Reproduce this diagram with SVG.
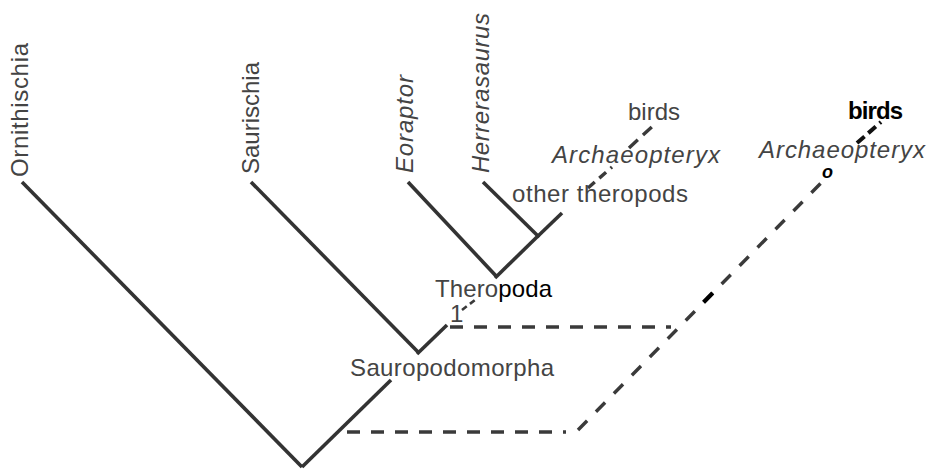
<svg xmlns="http://www.w3.org/2000/svg" width="930" height="471" viewBox="0 0 930 471">
<style>
.ln{stroke:#333;stroke-width:3.6;fill:none;stroke-linecap:butt}
.ds{stroke:#3a3a3a;stroke-width:3.4;fill:none;stroke-dasharray:13 11}
.tx{font-family:"Liberation Sans",Arial,sans-serif;font-size:24px;fill:#444}
.it{font-style:italic}
.bk{fill:#000;font-weight:bold}
</style>
<rect width="930" height="471" fill="#fff"/>
<g id="connectors">
<line class="ln" x1="22" y1="182" x2="302" y2="467"/>
<line class="ln" x1="302" y1="467" x2="391" y2="380"/>
<line class="ln" x1="417" y1="354" x2="447" y2="325"/>
<line class="ln" x1="251" y1="182" x2="419" y2="353"/>
<line class="ln" x1="408" y1="182" x2="497" y2="277"/>
<line class="ln" x1="483" y1="182" x2="539" y2="237"/>
<line class="ln" x1="495" y1="278" x2="539" y2="235"/>
<line class="ln" x1="537" y1="237" x2="562" y2="213"/>
<line class="ds" x1="462" y1="310" x2="475" y2="300" style="stroke-dasharray:6 4;stroke-width:2.6"/>
<line class="ds" x1="588" y1="188" x2="612" y2="167" style="stroke-dasharray:9 6"/>
<line class="ds" x1="629" y1="148" x2="655" y2="124" style="stroke-dasharray:12 7"/>
<line class="ds" x1="450" y1="327" x2="671" y2="327"/>
<line class="ds" x1="347" y1="432" x2="566" y2="432"/>
<line class="ds" x1="578" y1="430" x2="821" y2="183" style="stroke-dasharray:13 12.6"/>
<line x1="703.6" y1="302.2" x2="712.7" y2="293" stroke="#000" stroke-width="4.2"/>
<line class="ds" x1="857" y1="143" x2="881" y2="122" style="stroke-dasharray:10 5;stroke:#111;stroke-width:4"/>
</g>
<g id="n-ornithischia"><text class="tx" transform="translate(28,177) rotate(-90)" textLength="134" lengthAdjust="spacing">Ornithischia</text></g>
<g id="n-saurischia"><text class="tx" transform="translate(259,174) rotate(-90)" textLength="112" lengthAdjust="spacing">Saurischia</text></g>
<g id="n-eoraptor"><text class="tx it" transform="translate(413,173) rotate(-90)" textLength="98" lengthAdjust="spacing">Eoraptor</text></g>
<g id="n-herrerasaurus"><text class="tx it" transform="translate(489,173) rotate(-90)" textLength="160" lengthAdjust="spacing">Herrerasaurus</text></g>
<g id="n-birds"><text class="tx" x="628" y="120" textLength="52" lengthAdjust="spacing">birds</text></g>
<g id="n-archaeopteryx"><text class="tx it" x="552" y="163" textLength="168" lengthAdjust="spacing">Archaeopteryx</text></g>
<g id="n-other"><text class="tx" x="512" y="202" textLength="176" lengthAdjust="spacing">other theropods</text></g>
<g id="n-theropoda"><text class="tx" x="435" y="297" textLength="117" lengthAdjust="spacing">Thero<tspan fill="#000">poda</tspan></text></g>
<g id="n-1"><text class="tx" x="450" y="322">1</text></g>
<g id="n-sauropodomorpha"><text class="tx" x="350" y="376" textLength="204" lengthAdjust="spacing">Sauropodomorpha</text></g>
<g id="n-birds2"><text class="tx bk" x="848" y="119" textLength="55" lengthAdjust="spacing">birds</text></g>
<g id="n-archaeopteryx2"><text class="tx it" x="759" y="158" textLength="166" lengthAdjust="spacing">Archaeopteryx</text></g>
<g id="n-o"><text class="tx it bk" x="822" y="178" style="font-size:18px">o</text></g>
</svg>
